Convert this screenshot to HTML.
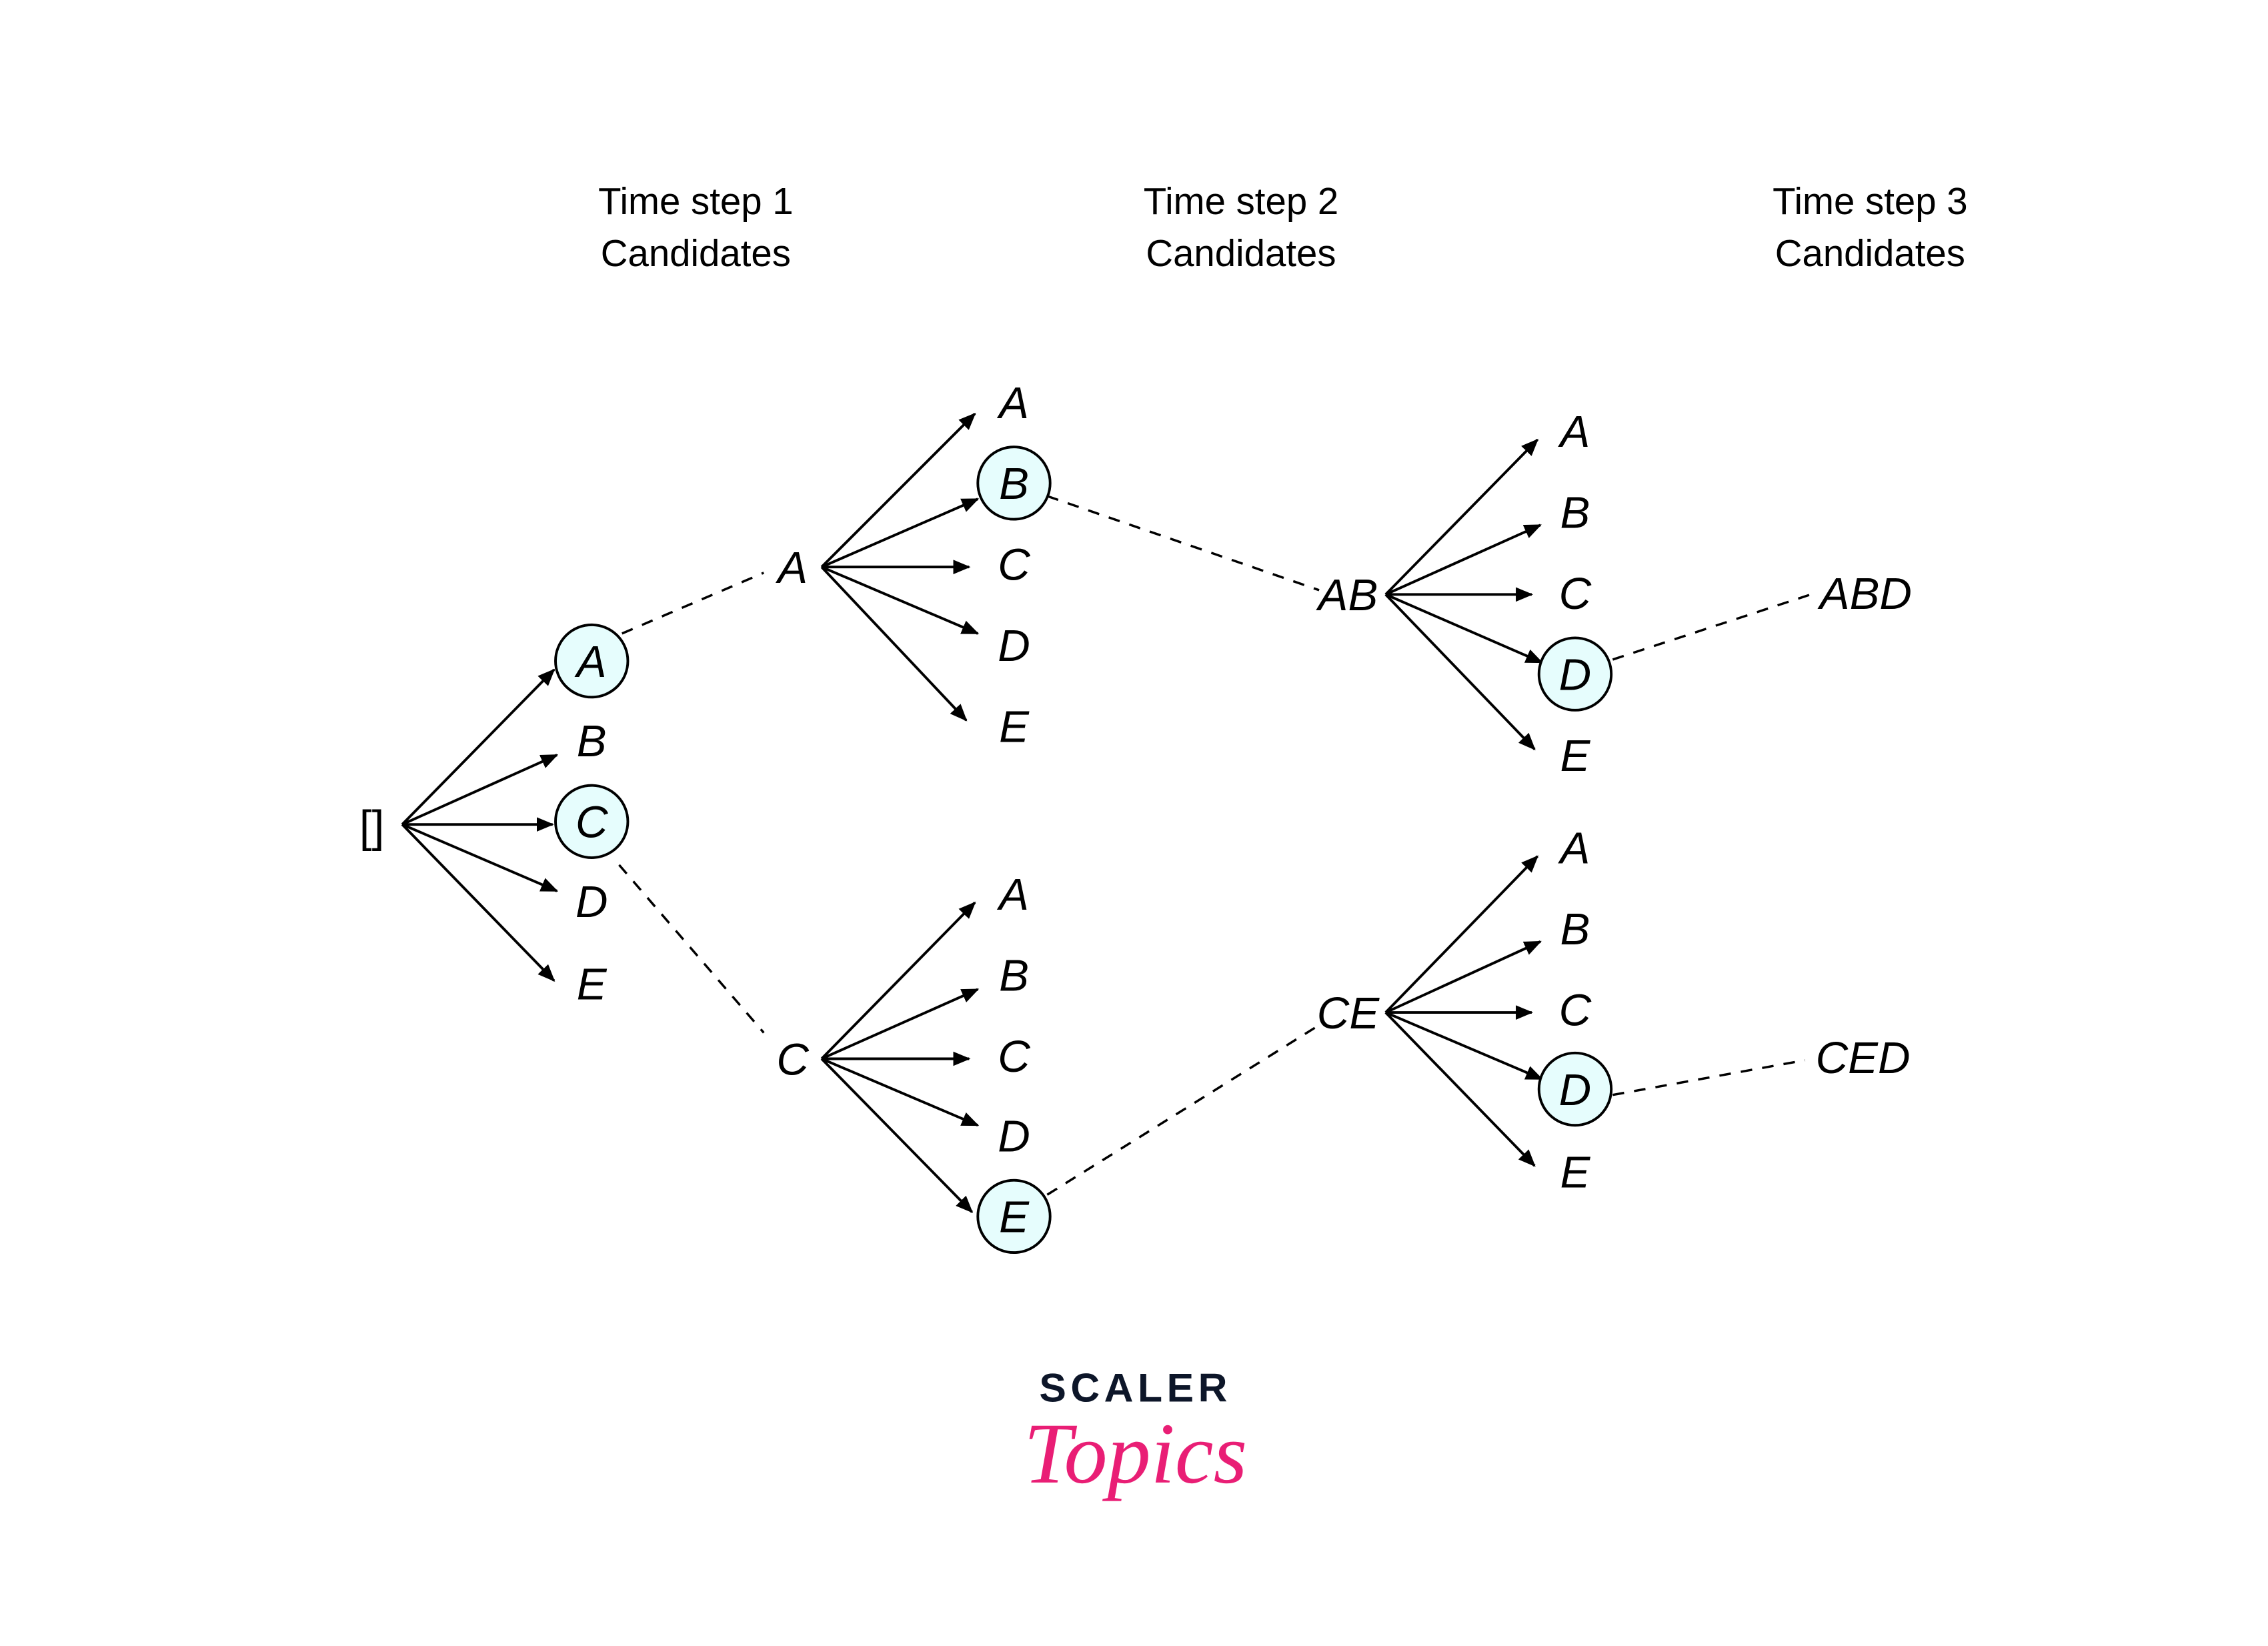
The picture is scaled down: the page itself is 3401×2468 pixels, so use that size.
<!DOCTYPE html>
<html><head><meta charset="utf-8"><style>
html,body{margin:0;padding:0;background:#fff;}
svg{display:block;}
.l{font-family:"Liberation Sans",sans-serif;font-style:italic;font-size:31px;fill:#000;}
.h{font-family:"Liberation Sans",sans-serif;font-size:26px;fill:#000;}
</style></head><body>
<svg width="3401" height="2468" viewBox="0 0 1568 1138" xmlns="http://www.w3.org/2000/svg">
<defs><marker id="ar" markerWidth="12" markerHeight="10" refX="11" refY="5" orient="auto" markerUnits="userSpaceOnUse"><path d="M0,0 L12,5 L0,10 z" fill="#000"/></marker></defs>
<g text-anchor="middle" class="h">
<text x="481" y="148">Time step 1</text><text x="481" y="184">Candidates</text>
<text x="858" y="148">Time step 2</text><text x="858" y="184">Candidates</text>
<text x="1293" y="148">Time step 3</text><text x="1293" y="184">Candidates</text>
</g>
<g stroke="#000" stroke-width="1.8" fill="none" marker-end="url(#ar)">
<line x1="278" y1="570" x2="383" y2="463"/><line x1="278" y1="570" x2="385" y2="522"/><line x1="278" y1="570" x2="382" y2="570"/><line x1="278" y1="570" x2="385" y2="616"/><line x1="278" y1="570" x2="383" y2="678"/>
<line x1="568" y1="392" x2="674" y2="286"/><line x1="568" y1="392" x2="676" y2="345"/><line x1="568" y1="392" x2="670" y2="392"/><line x1="568" y1="392" x2="676" y2="438"/><line x1="568" y1="392" x2="668" y2="498"/>
<line x1="568" y1="732" x2="674" y2="624"/><line x1="568" y1="732" x2="676" y2="684"/><line x1="568" y1="732" x2="670" y2="732"/><line x1="568" y1="732" x2="676" y2="778"/><line x1="568" y1="732" x2="672" y2="838"/>
<line x1="958" y1="411" x2="1063" y2="304"/><line x1="958" y1="411" x2="1065" y2="363"/><line x1="958" y1="411" x2="1059" y2="411"/><line x1="958" y1="411" x2="1066" y2="458"/><line x1="958" y1="411" x2="1061" y2="518"/>
<line x1="958" y1="700" x2="1063" y2="592"/><line x1="958" y1="700" x2="1065" y2="651"/><line x1="958" y1="700" x2="1059" y2="700"/><line x1="958" y1="700" x2="1066" y2="746"/><line x1="958" y1="700" x2="1061" y2="806"/>
</g>
<g stroke="#000" stroke-width="1.6" stroke-dasharray="8,7" fill="none">
<line x1="430" y1="438" x2="528" y2="396"/><line x1="428" y1="598" x2="528" y2="714"/>
<line x1="724" y1="343" x2="912" y2="408"/><line x1="724" y1="826" x2="910" y2="710"/>
<line x1="1115" y1="456" x2="1255" y2="410"/><line x1="1115" y1="757" x2="1248" y2="733"/>
</g>
<g fill="#e6fdfd" stroke="#000" stroke-width="1.8">
<circle cx="409" cy="457" r="25"/><circle cx="409" cy="568" r="25"/>
<circle cx="701" cy="334" r="25"/><circle cx="701" cy="841" r="25"/>
<circle cx="1089" cy="466" r="25"/><circle cx="1089" cy="753" r="25"/>
</g>
<g class="l" text-anchor="middle">
<text x="257" y="582" style="font-style:normal">[]</text>
<text x="409" y="468">A</text><text x="409" y="523">B</text><text x="409" y="579">C</text><text x="409" y="634">D</text><text x="409" y="691">E</text>
<text x="548" y="403">A</text><text x="548" y="743">C</text>
<text x="701" y="289">A</text><text x="701" y="345">B</text><text x="701" y="401">C</text><text x="701" y="457">D</text><text x="701" y="513">E</text>
<text x="701" y="629">A</text><text x="701" y="685">B</text><text x="701" y="741">C</text><text x="701" y="796">D</text><text x="701" y="852">E</text>
<text x="932" y="422">AB</text><text x="932" y="711">CE</text>
<text x="1089" y="309">A</text><text x="1089" y="365">B</text><text x="1089" y="421">C</text><text x="1089" y="477">D</text><text x="1089" y="533">E</text>
<text x="1089" y="597">A</text><text x="1089" y="653">B</text><text x="1089" y="709">C</text><text x="1089" y="764">D</text><text x="1089" y="821">E</text>
<text x="1290" y="421">ABD</text><text x="1288" y="742">CED</text>
</g>
<text x="785" y="969" text-anchor="middle" font-family="Liberation Sans,sans-serif" font-weight="bold" font-size="28" letter-spacing="3" fill="#0d1629">SCALER</text>
<text x="785" y="1025" text-anchor="middle" font-family="Liberation Serif,serif" font-style="italic" font-size="60" fill="#e91e75">Topics</text>
</svg>
</body></html>
